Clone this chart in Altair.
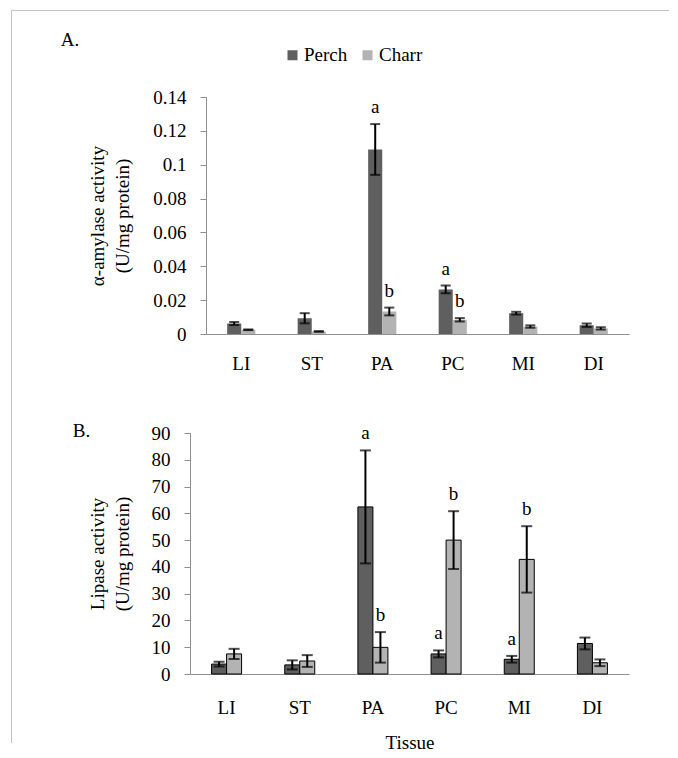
import altair as alt
import pandas as pd

FONT = "Liberation Serif"
PERCH_C = "#5f5f5f"
CHARR_C = "#b3b3b3"
AXIS_C = "#8f8f8f"
FRAME_C = "#c4c4c4"

tissues = ["LI", "ST", "PA", "PC", "MI", "DI"]
species = ["Perch", "Charr"]

# Panel A: alpha-amylase activity (U/mg protein)
amy_perch = [0.0062, 0.0093, 0.109, 0.0263, 0.0123, 0.0052]
amy_perch_err = [0.0009, 0.003, 0.015, 0.0023, 0.0008, 0.001]
amy_perch_lab = ["", "", "a", "a", "", ""]
amy_charr = [0.0025, 0.0015, 0.0133, 0.0084, 0.0044, 0.0033]
amy_charr_err = [0.0002, 0.0002, 0.0023, 0.001, 0.0007, 0.0007]
amy_charr_lab = ["", "", "b", "b", "", ""]
amy_ticks = [0, 0.02, 0.04, 0.06, 0.08, 0.1, 0.12, 0.14]

# Panel B: lipase activity (U/mg protein)
lip_perch = [3.7, 3.4, 62.4, 7.5, 5.5, 11.4]
lip_perch_err = [0.9, 1.7, 21.1, 1.3, 1.25, 2.2]
lip_perch_lab = ["", "", "a", "a", "a", ""]
lip_charr = [7.5, 4.85, 9.95, 50.0, 42.8, 4.2]
lip_charr_err = [1.9, 2.2, 5.7, 10.8, 12.4, 1.25]
lip_charr_lab = ["", "", "b", "b", "b", ""]
lip_ticks = [0, 10, 20, 30, 40, 50, 60, 70, 80, 90]


def long_df(pm, pe, pl, cm, ce, cl):
    rows = []
    for i, t in enumerate(tissues):
        for sp, m, e, l in (("Perch", pm[i], pe[i], pl[i]), ("Charr", cm[i], ce[i], cl[i])):
            rows.append(dict(tissue=t, species=sp, mean=m, lo=m - e, hi=m + e, label=l))
    return pd.DataFrame(rows)


def one():
    return alt.Data(values=[{"k": 1}])


def panel(df, yticks, ytitle, ymax, width, height, x_start, pin, cap, bar_stroke,
          legend, xtitle, lab_pad, title_x, frame, letter, letter_xy):
    xaxis = dict(labelAngle=0, ticks=False, labelPadding=lab_pad, domainColor=AXIS_C,
                 labelFont=FONT, labelFontSize=19, labelColor="black")
    if xtitle:
        xaxis.update(title=xtitle, titleFont=FONT, titleFontSize=19,
                     titleFontWeight="normal", titleColor="black", titlePadding=16)
    else:
        xaxis.update(title=None)
    x = alt.X("tissue:N", sort=tissues,
              scale=alt.Scale(paddingInner=pin, paddingOuter=pin / 2,
                              range=[x_start, width]),
              axis=alt.Axis(**xaxis))
    xo = alt.XOffset("species:N", sort=species,
                     scale=alt.Scale(paddingInner=0, paddingOuter=0))
    color = alt.Color("species:N", sort=species,
                      scale=alt.Scale(domain=species, range=[PERCH_C, CHARR_C]),
                      legend=legend)
    yscale = alt.Scale(domain=[0, ymax], nice=False, zero=True)
    yaxis = alt.Axis(values=yticks, labelExpr="format(datum.value, '~g')",
                     labelOverlap=False, grid=False, title=ytitle,
                     offset=-x_start,
                     domainColor=AXIS_C, tickColor=AXIS_C, tickSize=6,
                     labelPadding=14, labelFont=FONT, labelFontSize=19,
                     labelColor="black", titleFont=FONT, titleFontSize=19,
                     titleFontWeight="normal", titleColor="black",
                     titleLineHeight=25, titleX=title_x, titleY=height / 2)
    y = alt.Y("mean:Q", scale=yscale, axis=yaxis)
    ylo = alt.Y("lo:Q", scale=yscale, axis=yaxis)
    yhi = alt.Y("hi:Q", scale=yscale, axis=yaxis)
    base = alt.Chart(df)
    if bar_stroke:
        bars = base.mark_bar(stroke="black", strokeWidth=1)
    else:
        bars = base.mark_bar()
    bars = bars.encode(x=x, xOffset=xo, y=y, color=color)
    err = base.mark_rule(color="black", strokeWidth=2).encode(
        x=x, xOffset=xo, y=ylo, y2="hi:Q")
    cap_lo = base.mark_tick(color="black", thickness=2, size=cap).encode(
        x=x, xOffset=xo, y=ylo)
    cap_hi = base.mark_tick(color="black", thickness=2, size=cap).encode(
        x=x, xOffset=xo, y=yhi)
    labels = base.transform_filter("datum.label != ''").mark_text(
        font=FONT, fontSize=19, color="black", baseline="alphabetic", dy=-11
    ).encode(x=x, xOffset=xo, y=yhi, text="label:N")
    layers = [bars, err, cap_lo, cap_hi, labels]
    for (x1, x2, y1, y2) in frame:
        enc = dict(x=alt.value(x1), y=alt.value(y1))
        if x2 is not None:
            enc["x2"] = alt.value(x2)
        if y2 is not None:
            enc["y2"] = alt.value(y2)
        layers.append(alt.Chart(one()).mark_rule(color=FRAME_C, strokeWidth=1).encode(**enc))
    layers.append(alt.Chart(alt.Data(values=[{"t": letter}])).mark_text(
        font=FONT, fontSize=19, color="black", align="center", baseline="middle"
    ).encode(text="t:N", x=alt.value(letter_xy[0]), y=alt.value(letter_xy[1])))
    return alt.layer(*layers).properties(width=width, height=height)


dfA = long_df(amy_perch, amy_perch_err, amy_perch_lab, amy_charr, amy_charr_err, amy_charr_lab)
dfB = long_df(lip_perch, lip_perch_err, lip_perch_lab, lip_charr, lip_charr_err, lip_charr_lab)

legendA = alt.Legend(orient="none", direction="horizontal", legendX=93, legendY=-51.5,
                     title=None, symbolType="square", symbolSize=100, symbolStrokeWidth=0,
                     labelFont=FONT, labelFontSize=19, labelColor="black",
                     labelOffset=2, columnPadding=10, padding=0)

# frame pieces: (x1, x2, y1, y2) in pixels relative to plot origin
frameA = [(-178.5, 479, -86.5, None), (-178.5, None, -86.5, 283)]
frameB = [(-178.5, None, -55, 310)]

A = panel(dfA, amy_ticks, ["α-amylase activity", "(U/mg protein)"], 0.14, 439, 237, 16,
          0.6, 10, False, legendA, None, 20, -99, frameA, "A.", (-120, -57))
B = panel(dfB, lip_ticks, ["Lipase activity", "(U/mg protein)"], 90, 439, 241, 0,
          0.59, 11, True, None, "Tissue", 24, -83, frameB, "B.", (-108.5, -2))

chart = alt.concat(A, B, columns=1, spacing=-4).resolve_scale(
    x="independent", y="independent", xOffset="independent"
).resolve_legend(color="independent").properties(
    padding={"left": 3, "top": 2, "right": 0, "bottom": 0}
).configure(font=FONT, view=alt.ViewConfig(stroke=None))

chart.save("out.html", embed_options={"renderer": "svg", "actions": False})
